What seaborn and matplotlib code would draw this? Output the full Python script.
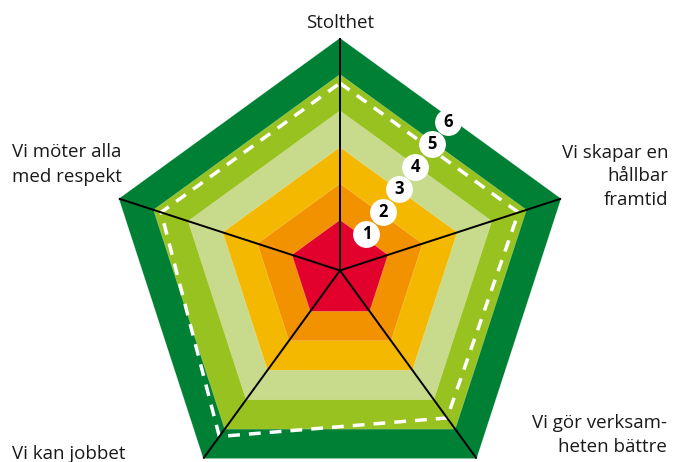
import numpy as np
import matplotlib
matplotlib.use("Agg")
import matplotlib.pyplot as plt
import seaborn as sns

# axes (clockwise from top)
axis_labels = ["Stolthet", "Vi skapar en\nhållbar\nframtid", "Vi gör verksam-\nheten bättre",
               "Vi kan jobbet", "Vi möter alla\nmed respekt"]
# score levels and their band colours
levels = [1, 2, 3, 4, 5, 6]
level_colors = ["#E2002D", "#F39200", "#F4B800", "#C8DB8C", "#97C21F", "#008035"]
# dashed result line
scores = [4.76, 4.77, 4.62, 5.25, 4.78]

sns.set_theme(style="white")
plt.rcParams["font.family"] = ["Open Sans", "DejaVu Sans"]

fig = plt.figure(figsize=(6.73, 4.62), dpi=100)
ax = fig.add_axes([0.1597, -0.0887, 0.6909, 1.0065], projection="polar")
ax.set_theta_offset(np.pi / 2)
ax.set_theta_direction(-1)
ax.set_ylim(0, 6)
ax.set_rorigin(-0.387)
ax.axis("off")
r0 = ax.get_rorigin()

n = len(axis_labels)
theta = np.linspace(0, 2 * np.pi, n, endpoint=False)
theta_closed = np.append(theta, theta[0] + 2 * np.pi)

# bands, largest first
for lev, col in sorted(zip(levels, level_colors), reverse=True):
    ax.fill(theta_closed, [lev] * (n + 1), color=col, edgecolor=(1, 1, 1, 0.35),
            linewidth=0.4, clip_on=False, zorder=1)

# dashed score polygon
sns.lineplot(x=theta_closed, y=np.append(scores, scores[0]), sort=False, estimator=None,
             ax=ax, color="white", linewidth=2.5, zorder=3)
ax.lines[-1].set_dashes((3.4, 2.6))
ax.lines[-1].set_clip_on(False)

# spokes from the centre out to the outer vertices
for t in theta:
    ax.plot([t, t], [r0, max(levels)], color="black", linewidth=1.4,
            zorder=4, clip_on=False, solid_capstyle="butt")

# level markers along the band edges, between the first two spokes
mid = np.pi / n
for lev in levels:
    r = r0 + 0.765 * (lev - r0) + 0.17
    ax.plot(mid, r, marker="o", markersize=18.3, color="white", zorder=5, clip_on=False)
    ax.text(mid, r, str(lev), ha="center", va="center", fontsize=12, fontweight="bold",
            color="black", zorder=6)

# labels
lab_kw = dict(fontsize=13.5, color="#1a1a1a", va="baseline")
fig.text(340 / 673, 1 - 28 / 462, axis_labels[0], ha="center", **lab_kw)
for i, line in enumerate(axis_labels[1].split("\n")):
    fig.text(668 / 673, 1 - (158 + 23.5 * i) / 462, line, ha="right", **lab_kw)
for i, line in enumerate(axis_labels[2].split("\n")):
    fig.text(667 / 673, 1 - (428 + 24 * i) / 462, line, ha="right", **lab_kw)
fig.text(12 / 673, 1 - 459 / 462, axis_labels[3], ha="left", **lab_kw)
for i, line in enumerate(axis_labels[4].split("\n")):
    fig.text(12 / 673, 1 - (157 + 25 * i) / 462, line, ha="left", **lab_kw)

fig.savefig("out.png", dpi=100)
